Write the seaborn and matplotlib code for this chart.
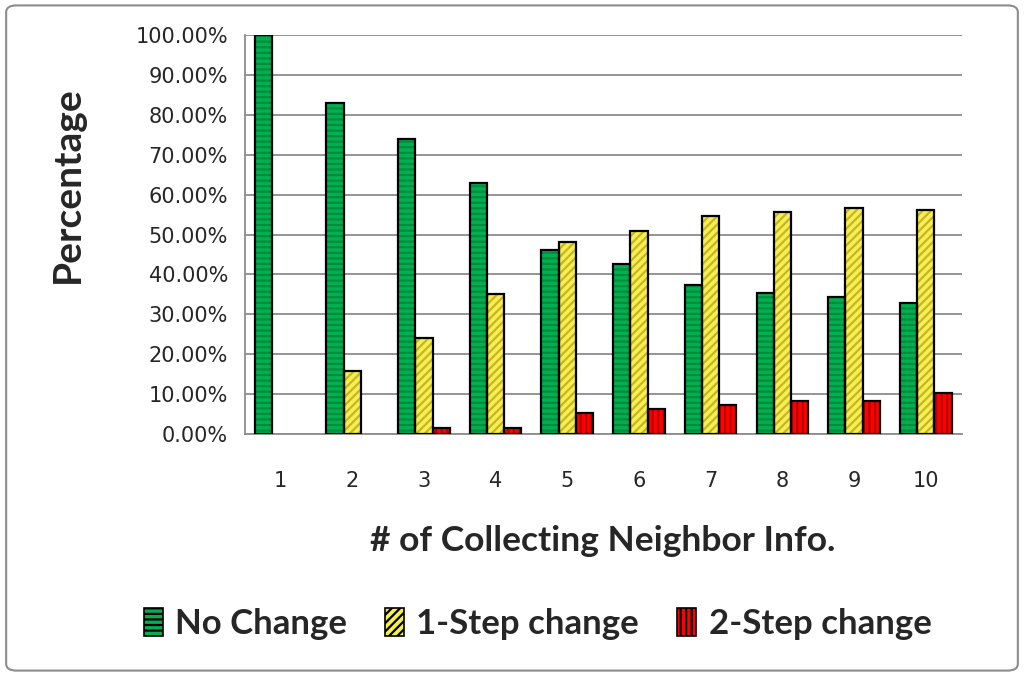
import matplotlib
matplotlib.use('Agg')
import matplotlib.pyplot as plt
import seaborn as sns
import pandas as pd
from matplotlib.patches import Rectangle, FancyBboxPatch
from matplotlib.ticker import PercentFormatter, FixedLocator

sns.set_theme(style="white")
plt.rcParams['font.family'] = ['DejaVu Sans']
plt.rcParams['hatch.linewidth'] = 1.6

# data (percent)
rounds = ['1', '2', '3', '4', '5', '6', '7', '8', '9', '10']
no_change = [100.0, 83.0, 73.9, 62.9, 46.1, 42.5, 37.4, 35.4, 34.4, 32.9]
one_step = [0.0, 15.8, 24.0, 35.0, 48.1, 51.0, 54.6, 55.6, 56.6, 56.1]
two_step = [0.0, 0.0, 1.5, 1.5, 5.2, 6.2, 7.2, 8.3, 8.3, 10.2]
series = ['No Change', '1-Step change', '2-Step change']

fills = ['#00B050', '#F5F050', '#FF0000']
hatch_cols = ['#008C3C', '#C8B428', '#B80000']
hatches = ['---', '////', '|||']

df = pd.DataFrame({
    'round': rounds * 3,
    'value': no_change + one_step + two_step,
    'series': [s for s in series for _ in rounds],
})

fig = plt.figure(figsize=(10.24, 6.76), dpi=100)
ax = fig.add_axes([0.239, 0.358, 0.700, 0.590])

sns.barplot(data=df, x='round', y='value', hue='series', order=rounds,
            hue_order=series, palette=fills, width=0.72, ax=ax,
            legend=False, saturation=1)

# hatch in a darker tone, then a black outline on top
for cont, fc, hc, h in zip(ax.containers, fills, hatch_cols, hatches):
    for bar in cont:
        bar.set_hatch(h)
        bar.set_edgecolor(hc)
        bar.set_linewidth(0)
        if bar.get_height() > 0:
            ax.add_patch(Rectangle(bar.get_xy(), bar.get_width(), bar.get_height(),
                                   fill=False, edgecolor='black', linewidth=1.6, zorder=3))

ax.set_ylim(0, 100)
ax.set_xlim(-0.5, len(rounds) - 0.5)
ax.yaxis.set_major_locator(FixedLocator(range(0, 101, 10)))
ax.yaxis.set_major_formatter(PercentFormatter(decimals=2))
ax.yaxis.grid(True, color='#8c8c8c', linewidth=1.3)
ax.set_axisbelow(True)

for side in ['top', 'right']:
    ax.spines[side].set_visible(False)
for side in ['left', 'bottom']:
    ax.spines[side].set_color('#8c8c8c')
    ax.spines[side].set_linewidth(1.3)

ax.set_xticks([i + 0.5 for i in range(-1, len(rounds))], minor=True)
ax.tick_params(axis='x', which='minor', length=9, width=1.3, color='#8c8c8c', direction='out')
ax.tick_params(axis='x', which='major', length=0, pad=27, labelsize=15)
ax.tick_params(axis='y', length=8, width=1.3, color='#8c8c8c', direction='out',
               labelsize=15, pad=4)

ax.set_xlabel('# of Collecting Neighbor Info.', fontsize=25.5, fontweight='bold',
              family='Lato', labelpad=24)
ax.set_ylabel('Percentage', fontsize=28, fontweight='bold', family='Lato')
ax.yaxis.set_label_coords(-0.223, 0.624)

handles = [Rectangle((0, 0), 1, 1, facecolor=fc, edgecolor='black', hatch=h, linewidth=1.2)
           for fc, h in zip(fills, hatches)]
fig.legend(handles, series, loc='center', bbox_to_anchor=(0.525, 0.077), ncol=3,
           frameon=False, prop={'family': 'Lato', 'weight': 'bold', 'size': 25},
           handlelength=0.55, handleheight=0.85, handletextpad=0.35, columnspacing=1.1)

fig.patches.append(FancyBboxPatch((0.006, 0.008), 0.988, 0.984,
                                  boxstyle='round,pad=0,rounding_size=0.01',
                                  transform=fig.transFigure, fill=False,
                                  edgecolor='#8c8c8c', linewidth=1.5))

fig.savefig('out.png', dpi=100, facecolor='white')
